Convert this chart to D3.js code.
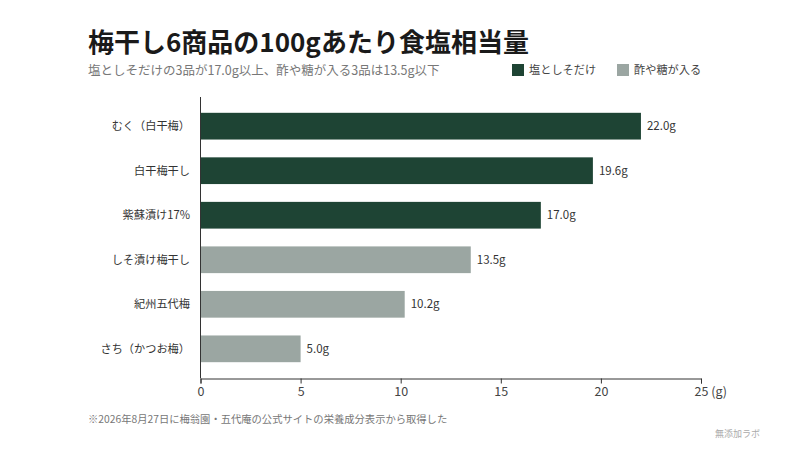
<!DOCTYPE html>
<html><head><meta charset="utf-8">
<script src="https://cdn.jsdelivr.net/npm/d3@7"></script>
<style>
html,body{margin:0;padding:0;background:#fff;}
svg{display:block;font-family:"Noto Sans CJK JP","Noto Sans",sans-serif;}
</style></head>
<body>
<svg id="chart" width="800" height="450"></svg>
<script>
const categories = ["むく（白干梅）","白干梅干し","紫蘇漬け17%","しそ漬け梅干し","紀州五代梅","さち（かつお梅）"];
const values = [22.0, 19.6, 17.0, 13.5, 10.2, 5.0];
const groups = ["salt","salt","salt","sweet","sweet","sweet"];
const legendLabels = ["塩としそだけ","酢や糖が入る"];
const xTicks = [0,5,10,15,20,25];
const colors = {salt:"#1e4434", sweet:"#9ba6a2"};

const svg = d3.select("#chart");
const x = d3.scaleLinear().domain([0,25]).range([200.5,701]);
const y = d3.scaleBand().domain(categories).range([95,380]).paddingInner(0.4).paddingOuter(0.4);

// Title
svg.append("text").attr("x",88).attr("y",51.5).attr("font-size",26).attr("font-weight",700)
  .attr("fill","#1a1a1a").text("梅干し6商品の100gあたり食塩相当量");
svg.append("text").attr("x",88).attr("y",75).attr("font-size",12.5).attr("fill","#777")
  .text("塩としそだけの3品が17.0g以上、酢や糖が入る3品は13.5g以下");

// Legend
const legX = [512, 617];
legendLabels.forEach((l,i)=>{
  const key = i===0?"salt":"sweet";
  svg.append("rect").attr("x",legX[i]).attr("y",64).attr("width",12).attr("height",12).attr("fill",colors[key]);
  svg.append("text").attr("x",legX[i]+17).attr("y",73.5).attr("font-size",11.2).attr("fill","#444").text(l);
});

// Bars
svg.selectAll("rect.bar").data(categories).enter().append("rect").attr("class","bar")
  .attr("x",x(0)).attr("y",d=>y(d)).attr("height",y.bandwidth())
  .attr("width",(d,i)=>x(values[i])-x(0)).attr("fill",(d,i)=>colors[groups[i]]);

// Value labels
svg.selectAll("text.val").data(categories).enter().append("text").attr("class","val")
  .attr("x",(d,i)=>x(values[i])+6).attr("y",d=>y(d)+y.bandwidth()/2).attr("dy","0.35em")
  .attr("font-size",11.5).attr("fill","#333").text((d,i)=>values[i].toFixed(1)+"g");

// Category labels
svg.selectAll("text.cat").data(categories).enter().append("text").attr("class","cat")
  .attr("x",190).attr("y",d=>y(d)+y.bandwidth()/2).attr("dy","0.35em").attr("text-anchor","end")
  .attr("font-size",11.2).attr("fill","#333").text(d=>d);

// Y axis line
svg.append("line").attr("x1",x(0)).attr("x2",x(0)).attr("y1",97).attr("y2",378.5)
  .attr("stroke","#333").attr("stroke-width",1);

// X axis
const xAxis = d3.axisBottom(x).tickValues(xTicks).tickSize(5).tickPadding(4)
  .tickFormat(d=> d===25 ? "25 (g)" : String(d));
const gx = svg.append("g").attr("transform","translate(0,378.5)").call(xAxis);
gx.select(".domain").attr("stroke","#333");
gx.selectAll(".tick line").attr("stroke","#333");
gx.selectAll(".tick text").attr("font-size",12.5).attr("fill","#444")
  .attr("font-family",'"Noto Sans CJK JP","Noto Sans",sans-serif')
  .attr("text-anchor",d=>d===25?"start":"middle").attr("dx",d=>d===25?"-7":"0");

// Footnote
svg.append("text").attr("x",88).attr("y",423).attr("font-size",10.3).attr("fill","#777")
  .text("※2026年8月27日に梅翁園・五代庵の公式サイトの栄養成分表示から取得した");
svg.append("text").attr("x",760).attr("y",437).attr("text-anchor","end").attr("font-size",9).attr("fill","#aaa")
  .text("無添加ラボ");
</script>
</body></html>
